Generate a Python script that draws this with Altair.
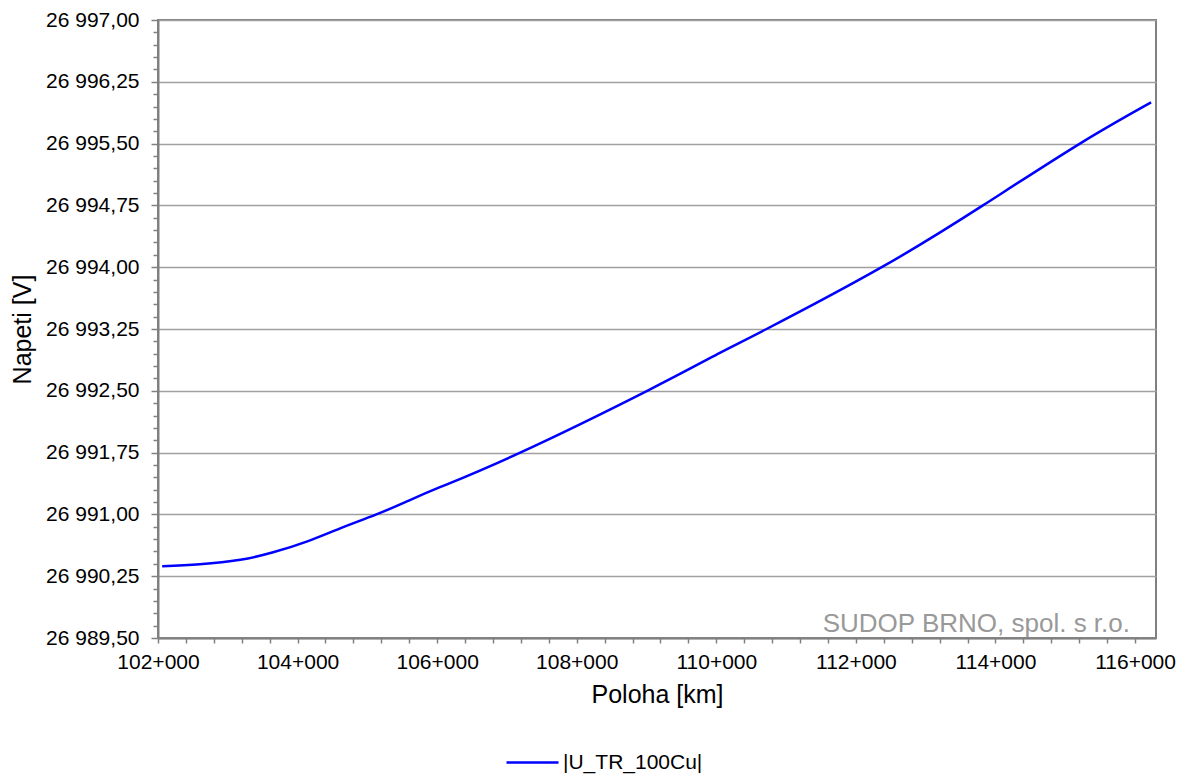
import altair as alt
import pandas as pd

# ---- data ----
poloha_km = [102.06, 102.60, 103.18, 103.65, 104.13, 104.61, 105.13, 105.56,
             106.04, 107.19, 109.01, 110.05, 110.72, 112.37, 113.82, 115.21, 116.23]
napeti_v = [26990.37, 26990.395, 26990.45, 26990.54, 26990.67, 26990.83,
            26991.00, 26991.155, 26991.33, 26991.75, 26992.50, 26992.96,
            26993.25, 26994.00, 26994.75, 26995.50, 26996.00]
series_name = ["|U_TR_100Cu|"]

y_major_ticks = [26989.50, 26990.25, 26991.00, 26991.75, 26992.50, 26993.25,
                 26994.00, 26994.75, 26995.50, 26996.25, 26997.00]
x_major_ticks = [102, 104, 106, 108, 110, 112, 114, 116]
watermark = "SUDOP BRNO, spol. s r.o."

# minor ticks: 5 subdivisions between major ticks
y_ticks = []
for a, b in zip(y_major_ticks[:-1], y_major_ticks[1:]):
    for k in range(5):
        y_ticks.append(round(a + (b - a) * k / 5, 3))
y_ticks.append(y_major_ticks[-1])
x_ticks = []
for a, b in zip(x_major_ticks[:-1], x_major_ticks[1:]):
    for k in range(5):
        x_ticks.append(round(a + (b - a) * k / 5, 3))
x_ticks.append(x_major_ticks[-1])

df = pd.DataFrame({"km": poloha_km, "U": napeti_v,
                   "serie": series_name * len(poloha_km)})

W, H = 998, 618
FONT = "Liberation Sans"

y_major_test = "abs((datum.value - 26989.5) / 0.75 - round((datum.value - 26989.5) / 0.75)) < 0.01"
x_major_test = "abs(datum.value / 2 - round(datum.value / 2)) < 0.01"

line = alt.Chart(df).mark_line(strokeWidth=2.5, interpolate="natural").encode(
    x=alt.X("km:Q",
            scale=alt.Scale(domain=[102, 116.3], nice=False, zero=False),
            axis=alt.Axis(values=x_ticks, grid=False, tickSize=5, tickWidth=1.5,
                          tickColor="#808080", domainColor="#808080", domainWidth=2,
                          labelExpr=f"({x_major_test}) ? format(datum.value, 'd') + '+000' : ''",
                          labelFont=FONT, labelFontSize=21, labelColor="#000000",
                          labelPadding=8, labelFlush=False, labelOverlap=False,
                          title="Poloha [km]", titleFont=FONT, titleFontSize=25,
                          titleFontWeight="normal", titleColor="#000000",
                          titlePadding=10)),
    y=alt.Y("U:Q",
            scale=alt.Scale(domain=[26989.5, 26997.0], nice=False, zero=False),
            axis=alt.Axis(values=y_ticks, grid=True,
                          gridColor="#a0a0a0", gridWidth=1.5,
                          gridOpacity={"condition": {"test": y_major_test, "value": 1}, "value": 0},
                          tickSize={"condition": {"test": y_major_test, "value": 7}, "value": 5},
                          tickWidth=1.5, tickColor="#808080",
                          domainColor="#808080", domainWidth=2,
                          labelExpr=f"({y_major_test}) ? replace(replace(format(datum.value, ',.2f'), ',', ' '), '.', ',') : ''",
                          labelFont=FONT, labelFontSize=21, labelColor="#000000",
                          labelPadding=12, labelFlush=False, labelOverlap=False,
                          title="Napeti [V]", titleFont=FONT, titleFontSize=25,
                          titleFontWeight="normal", titleColor="#000000",
                          titlePadding=10)),
    color=alt.Color("serie:N",
                    scale=alt.Scale(domain=series_name, range=["#0000ff"]),
                    legend=alt.Legend(title=None, orient="none", legendX=347, legendY=715,
                                      symbolType="stroke", symbolSize=2704,
                                      symbolStrokeWidth=2.5, labelFont=FONT,
                                      labelFontSize=21, labelColor="#000000",
                                      labelOffset=3)),
)

wm = alt.Chart(pd.DataFrame({"t": [watermark]})).mark_text(
    align="right", baseline="alphabetic", font=FONT, fontSize=26, color="#999999"
).encode(x=alt.value(W - 26), y=alt.value(H - 6), text="t:N")

chart = alt.layer(line, wm).properties(
    width=W, height=H,
    autosize=alt.AutoSizeParams(type="none"),
    padding={"left": 150, "top": 12, "right": 29, "bottom": 136},
    background="#ffffff",
).configure_view(stroke="#808080", strokeWidth=2)

chart.save("out.html", embed_options={"renderer": "svg", "actions": False})
